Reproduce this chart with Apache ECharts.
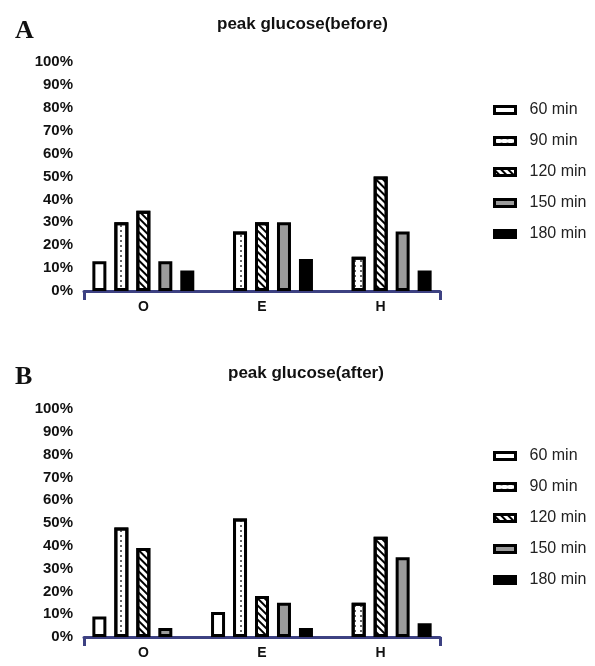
<!DOCTYPE html>
<html>
<head>
<meta charset="utf-8">
<script src="https://cdn.jsdelivr.net/npm/echarts@6/dist/echarts.min.js"></script>
<style>
  html, body { margin: 0; padding: 0; background: #fff; }
  #main { width: 595px; height: 666px; }
</style>
</head>
<body>
<div id="main"></div>
<script>
var groups = ['O', 'E', 'H']
var times = ['60 min', '90 min', '120 min', '150 min', '180 min']
// percent values per time point, groups O / E / H ('-' = no bar)
var before60 = [13, '-', '-']
var before90 = [30, 26, 15]
var before120 = [35, 30, 50]
var before150 = [13, 30, 26]
var before180 = [9, 14, 9]
var after60 = [9, 11, '-']
var after90 = [48, 52, 15]
var after120 = [39, 18, 44]
var after150 = [4, 15, 35]
var after180 = ['-', 4, 6]

var FONT = '"Liberation Sans", Arial, sans-serif'
var SERIF = '"Liberation Serif", "Times New Roman", serif'
var AXIS_BLUE = '#3d4182'

// fill + pattern for each time point
var looks = [
  { color: '#fff' },
  { color: '#fff', decal: { symbol: 'circle', symbolSize: 1, dashArrayX: [1.6, 4], dashArrayY: [1.6, 2.8], color: '#333' } },
  { color: '#fff', decal: { symbol: 'rect', dashArrayX: [1, 0], dashArrayY: [2, 2.5], rotation: Math.PI / 4, color: '#000' } },
  { color: '#9b9b9b' },
  { color: '#000' }
]

function toPct (arr) {
  return arr.map(function (v) { return v === '-' ? '-' : v / 100 })
}

var panels = [
  { top: 62, height: 229, data: [before60, before90, before120, before150, before180] },
  { top: 409, height: 228, data: [after60, after90, after120, after150, after180] }
]

var grids = []
var xAxes = []
var yAxes = []
var series = []
panels.forEach(function (p, i) {
  grids.push({ left: 84, width: 356, top: p.top, height: p.height })
  // category axis: labels only
  xAxes.push({
    type: 'category',
    gridIndex: i,
    data: groups,
    axisLine: { show: false },
    axisTick: { show: false },
    axisLabel: { margin: 9, color: '#111', fontWeight: 'bold', fontSize: 14, fontFamily: FONT }
  })
  // plain axis for the blue base line with end ticks
  xAxes.push({
    type: 'value',
    gridIndex: i,
    min: 0,
    max: 1,
    interval: 1,
    position: 'bottom',
    axisLine: { show: true, lineStyle: { color: AXIS_BLUE, width: 3 } },
    axisTick: { show: true, length: 9, lineStyle: { color: AXIS_BLUE, width: 3 } },
    axisLabel: { show: false },
    splitLine: { show: false }
  })
  yAxes.push({
    type: 'value',
    gridIndex: i,
    min: 0,
    max: 1,
    interval: 0.1,
    axisLine: { show: false },
    axisTick: { show: false },
    splitLine: { show: false },
    axisLabel: {
      margin: 11,
      color: '#111',
      fontWeight: 'bold',
      fontSize: 15,
      fontFamily: FONT,
      formatter: function (v) { return Math.round(v * 100) + '%' }
    }
  })
  p.data.forEach(function (arr, k) {
    var st = { color: looks[k].color, borderColor: '#000', borderWidth: 3 }
    if (looks[k].decal) st.decal = looks[k].decal
    series.push({
      name: times[k],
      type: 'bar',
      xAxisIndex: i * 2,
      yAxisIndex: i,
      barWidth: 14,
      barGap: '57%',
      data: toPct(arr),
      itemStyle: st
    })
  })
})

var legendBase = {
  orient: 'vertical',
  left: 488,
  icon: 'rect',
  itemWidth: 21,
  itemHeight: 7,
  itemGap: 15,
  data: times,
  selectedMode: false,
  itemStyle: { borderWidth: 3, borderColor: '#000' },
  textStyle: { fontSize: 16, color: '#222', fontFamily: FONT, padding: [0, 0, 0, 9] }
}

var myChart = echarts.init(document.getElementById('main'))
myChart.setOption({
  backgroundColor: '#fff',
  animation: false,
  title: [
    { text: 'peak glucose(before)', left: 212, top: 11, textStyle: { fontSize: 17, fontWeight: 'bold', color: '#111', fontFamily: FONT } },
    { text: 'A', left: 10, top: 13, textStyle: { fontSize: 26, fontWeight: 'bold', color: '#111', fontFamily: SERIF } },
    { text: 'peak glucose(after)', left: 223, top: 360, textStyle: { fontSize: 17, fontWeight: 'bold', color: '#111', fontFamily: FONT } },
    { text: 'B', left: 10, top: 359, textStyle: { fontSize: 26, fontWeight: 'bold', color: '#111', fontFamily: SERIF } }
  ],
  legend: [
    Object.assign({}, legendBase, { top: 97 }),
    Object.assign({}, legendBase, { top: 443 })
  ],
  grid: grids,
  xAxis: xAxes,
  yAxis: yAxes,
  series: series
})
</script>
</body>
</html>
